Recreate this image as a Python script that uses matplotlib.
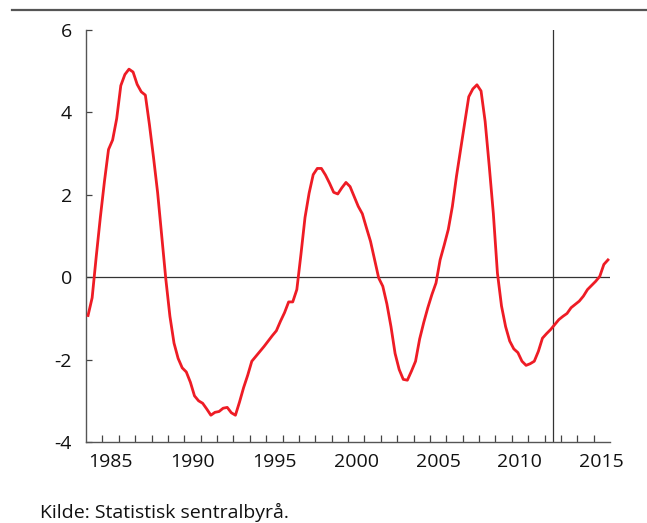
import numpy as np
import matplotlib
matplotlib.use("Agg")
import matplotlib.pyplot as plt
from matplotlib.lines import Line2D

plt.rcParams['font.family'] = ['Open Sans', 'DejaVu Sans']

start_year = 1984
values = [
    -0.93, -0.50, 0.50, 1.45, 2.32, 3.10, 3.33, 3.85, 4.65, 4.92,
    5.05, 4.98, 4.68, 4.50, 4.42, 3.70, 2.90, 2.05, 1.00, -0.05,
    -0.95, -1.60, -1.97, -2.20, -2.30, -2.55, -2.88, -3.00, -3.06, -3.20,
    -3.35, -3.28, -3.26, -3.18, -3.16, -3.29, -3.35, -3.03, -2.68, -2.38,
    -2.04, -1.92, -1.80, -1.68, -1.55, -1.42, -1.30, -1.07, -0.86, -0.60,
    -0.60, -0.30, 0.55, 1.45, 2.04, 2.49, 2.64, 2.64, 2.48, 2.28,
    2.06, 2.02, 2.17, 2.30, 2.20, 1.96, 1.72, 1.54, 1.20, 0.87,
    0.43, -0.02, -0.22, -0.65, -1.20, -1.85, -2.24, -2.48, -2.50, -2.28,
    -2.04, -1.50, -1.10, -0.74, -0.42, -0.14, 0.42, 0.78, 1.16, 1.72,
    2.45, 3.10, 3.74, 4.38, 4.57, 4.67, 4.52, 3.78, 2.70, 1.55,
    0.10, -0.70, -1.20, -1.55, -1.74, -1.83, -2.04, -2.14, -2.10, -2.04,
    -1.80, -1.48, -1.37, -1.27, -1.15, -1.03, -0.95, -0.88, -0.74, -0.66,
    -0.58, -0.46, -0.30, -0.20, -0.10, 0.02, 0.31, 0.42,
]
x_labels = ['1985', '1990', '1995', '2000', '2005', '2010', '2015']
label_years = [1985, 1990, 1995, 2000, 2005, 2010, 2015]
y_ticks = [-4, -2, 0, 2, 4, 6]
marker_year = 2012.5
source = 'Kilde: Statistisk sentralbyrå.'

x = start_year + (np.arange(len(values)) + 0.5) / 4.0

fig = plt.figure(figsize=(6.47, 5.23), dpi=100)
ax = fig.add_axes([86/647, 1 - 442/523, (610 - 86)/647, (442 - 30)/523])

ax.plot(x, values, color='#ee1c25', lw=2.0, solid_joinstyle='round', zorder=3)
ax.axhline(0, color='#333333', lw=0.9, zorder=2)
ax.axvline(marker_year, color='#333333', lw=0.9, zorder=2)

ax.set_xlim(1984, 2016)
ax.set_ylim(-4, 6)
ax.set_yticks(y_ticks)
ax.set_yticklabels([str(v) for v in y_ticks])
ax.set_xticks([y + 0.5 for y in label_years])
ax.set_xticklabels(x_labels)
ax.set_xticks(np.arange(1985, 2016), minor=True)
ax.tick_params(axis='x', which='major', length=0, pad=8, labelsize=14, colors='#111111')
ax.tick_params(axis='x', which='minor', length=5, direction='in', width=0.9, color='#444444')
ax.tick_params(axis='y', which='major', length=4, direction='in', width=0.9, pad=10,
               labelsize=14, color='#444444', labelcolor='#111111')
for s in ['top', 'right']:
    ax.spines[s].set_visible(False)
for s in ['left', 'bottom']:
    ax.spines[s].set_color('#555555')
    ax.spines[s].set_linewidth(1.0)

fig.add_artist(Line2D([12/647, 1.0], [1 - 10/523, 1 - 10/523], color='#555555', lw=1.6,
                      transform=fig.transFigure))
fig.text(40/647, 1 - 512/523, source, fontsize=14, color='#111111', va='center', ha='left')

fig.savefig('out.png', dpi=100)
